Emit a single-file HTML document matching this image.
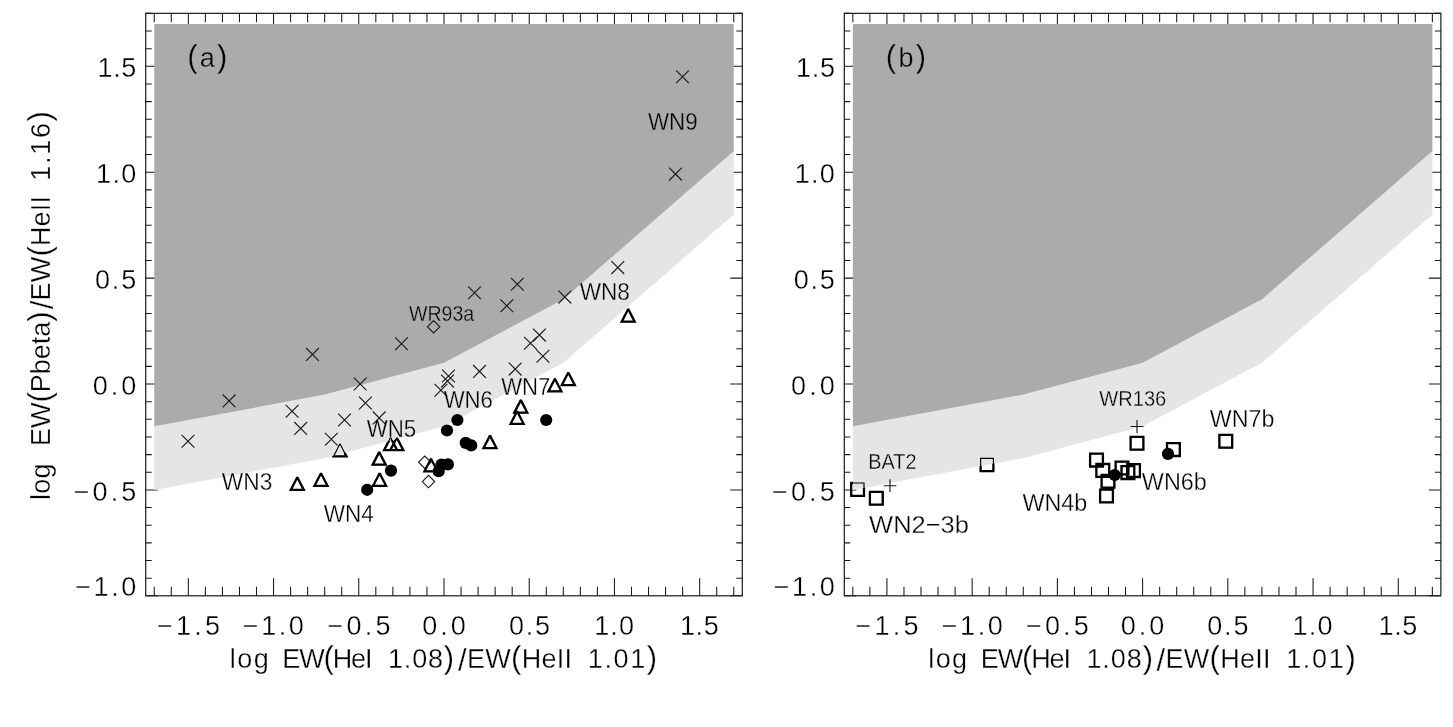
<!DOCTYPE html>
<html><head><meta charset="utf-8"><title>WN diagnostic diagram</title>
<style>
html,body{margin:0;padding:0;background:#fff;}
body{width:1453px;height:727px;overflow:hidden;}
svg{display:block;}
text{font-family:"Liberation Sans",sans-serif;fill:#000;stroke:#fff;stroke-width:0.3px;}
.lbl{mix-blend-mode:multiply;}
</style></head><body>
<svg width="1453" height="727" viewBox="0 0 1453 727">
<rect width="1453" height="727" fill="#fff"/>
<!-- axes -->
<path d="M154.24 595.8v-9.0M154.24 13.35v9.0M171.28 595.8v-9.0M171.28 13.35v9.0M188.33 595.8v-17.6M188.33 13.35v17.6M205.37 595.8v-9.0M205.37 13.35v9.0M222.42 595.8v-9.0M222.42 13.35v9.0M239.46 595.8v-9.0M239.46 13.35v9.0M256.5 595.8v-9.0M256.5 13.35v9.0M273.55 595.8v-17.6M273.55 13.35v17.6M290.6 595.8v-9.0M290.6 13.35v9.0M307.64 595.8v-9.0M307.64 13.35v9.0M324.69 595.8v-9.0M324.69 13.35v9.0M341.73 595.8v-9.0M341.73 13.35v9.0M358.77 595.8v-17.6M358.77 13.35v17.6M375.82 595.8v-9.0M375.82 13.35v9.0M392.87 595.8v-9.0M392.87 13.35v9.0M409.91 595.8v-9.0M409.91 13.35v9.0M426.95 595.8v-9.0M426.95 13.35v9.0M444 595.8v-17.6M444 13.35v17.6M461.05 595.8v-9.0M461.05 13.35v9.0M478.09 595.8v-9.0M478.09 13.35v9.0M495.13 595.8v-9.0M495.13 13.35v9.0M512.18 595.8v-9.0M512.18 13.35v9.0M529.23 595.8v-17.6M529.23 13.35v17.6M546.27 595.8v-9.0M546.27 13.35v9.0M563.32 595.8v-9.0M563.32 13.35v9.0M580.36 595.8v-9.0M580.36 13.35v9.0M597.4 595.8v-9.0M597.4 13.35v9.0M614.45 595.8v-17.6M614.45 13.35v17.6M631.5 595.8v-9.0M631.5 13.35v9.0M648.54 595.8v-9.0M648.54 13.35v9.0M665.59 595.8v-9.0M665.59 13.35v9.0M682.63 595.8v-9.0M682.63 13.35v9.0M699.67 595.8v-17.6M699.67 13.35v17.6M716.72 595.8v-9.0M716.72 13.35v9.0M733.76 595.8v-9.0M733.76 13.35v9.0M145.71 595.8h12.0M742.29 595.8h-12.0M145.71 578.15h6.0M742.29 578.15h-6.0M145.71 560.5h6.0M742.29 560.5h-6.0M145.71 542.85h6.0M742.29 542.85h-6.0M145.71 525.2h6.0M742.29 525.2h-6.0M145.71 507.55h6.0M742.29 507.55h-6.0M145.71 489.9h12.0M742.29 489.9h-12.0M145.71 472.25h6.0M742.29 472.25h-6.0M145.71 454.6h6.0M742.29 454.6h-6.0M145.71 436.95h6.0M742.29 436.95h-6.0M145.71 419.3h6.0M742.29 419.3h-6.0M145.71 401.65h6.0M742.29 401.65h-6.0M145.71 384h12.0M742.29 384h-12.0M145.71 366.35h6.0M742.29 366.35h-6.0M145.71 348.7h6.0M742.29 348.7h-6.0M145.71 331.05h6.0M742.29 331.05h-6.0M145.71 313.4h6.0M742.29 313.4h-6.0M145.71 295.75h6.0M742.29 295.75h-6.0M145.71 278.1h12.0M742.29 278.1h-12.0M145.71 260.45h6.0M742.29 260.45h-6.0M145.71 242.8h6.0M742.29 242.8h-6.0M145.71 225.15h6.0M742.29 225.15h-6.0M145.71 207.5h6.0M742.29 207.5h-6.0M145.71 189.85h6.0M742.29 189.85h-6.0M145.71 172.2h12.0M742.29 172.2h-12.0M145.71 154.55h6.0M742.29 154.55h-6.0M145.71 136.9h6.0M742.29 136.9h-6.0M145.71 119.25h6.0M742.29 119.25h-6.0M145.71 101.6h6.0M742.29 101.6h-6.0M145.71 83.95h6.0M742.29 83.95h-6.0M145.71 66.3h12.0M742.29 66.3h-12.0M145.71 48.65h6.0M742.29 48.65h-6.0M145.71 31h6.0M742.29 31h-6.0M145.71 13.35h6.0M742.29 13.35h-6.0" stroke="#1a1a1a" stroke-width="1.05" fill="none"/>
<rect x="145.71" y="13.35" width="596.57" height="582.45" fill="none" stroke="#1a1a1a" stroke-width="1.2"/>
<path d="M852.83 595.8v-9.0M852.83 13.35v9.0M869.88 595.8v-9.0M869.88 13.35v9.0M886.92 595.8v-17.6M886.92 13.35v17.6M903.97 595.8v-9.0M903.97 13.35v9.0M921.01 595.8v-9.0M921.01 13.35v9.0M938.06 595.8v-9.0M938.06 13.35v9.0M955.1 595.8v-9.0M955.1 13.35v9.0M972.15 595.8v-17.6M972.15 13.35v17.6M989.19 595.8v-9.0M989.19 13.35v9.0M1006.24 595.8v-9.0M1006.24 13.35v9.0M1023.28 595.8v-9.0M1023.28 13.35v9.0M1040.33 595.8v-9.0M1040.33 13.35v9.0M1057.38 595.8v-17.6M1057.38 13.35v17.6M1074.42 595.8v-9.0M1074.42 13.35v9.0M1091.46 595.8v-9.0M1091.46 13.35v9.0M1108.51 595.8v-9.0M1108.51 13.35v9.0M1125.55 595.8v-9.0M1125.55 13.35v9.0M1142.6 595.8v-17.6M1142.6 13.35v17.6M1159.64 595.8v-9.0M1159.64 13.35v9.0M1176.69 595.8v-9.0M1176.69 13.35v9.0M1193.73 595.8v-9.0M1193.73 13.35v9.0M1210.78 595.8v-9.0M1210.78 13.35v9.0M1227.82 595.8v-17.6M1227.82 13.35v17.6M1244.87 595.8v-9.0M1244.87 13.35v9.0M1261.91 595.8v-9.0M1261.91 13.35v9.0M1278.96 595.8v-9.0M1278.96 13.35v9.0M1296 595.8v-9.0M1296 13.35v9.0M1313.05 595.8v-17.6M1313.05 13.35v17.6M1330.09 595.8v-9.0M1330.09 13.35v9.0M1347.14 595.8v-9.0M1347.14 13.35v9.0M1364.18 595.8v-9.0M1364.18 13.35v9.0M1381.23 595.8v-9.0M1381.23 13.35v9.0M1398.27 595.8v-17.6M1398.27 13.35v17.6M1415.32 595.8v-9.0M1415.32 13.35v9.0M1432.36 595.8v-9.0M1432.36 13.35v9.0M844.31 595.8h12.0M1440.89 595.8h-12.0M844.31 578.15h6.0M1440.89 578.15h-6.0M844.31 560.5h6.0M1440.89 560.5h-6.0M844.31 542.85h6.0M1440.89 542.85h-6.0M844.31 525.2h6.0M1440.89 525.2h-6.0M844.31 507.55h6.0M1440.89 507.55h-6.0M844.31 489.9h12.0M1440.89 489.9h-12.0M844.31 472.25h6.0M1440.89 472.25h-6.0M844.31 454.6h6.0M1440.89 454.6h-6.0M844.31 436.95h6.0M1440.89 436.95h-6.0M844.31 419.3h6.0M1440.89 419.3h-6.0M844.31 401.65h6.0M1440.89 401.65h-6.0M844.31 384h12.0M1440.89 384h-12.0M844.31 366.35h6.0M1440.89 366.35h-6.0M844.31 348.7h6.0M1440.89 348.7h-6.0M844.31 331.05h6.0M1440.89 331.05h-6.0M844.31 313.4h6.0M1440.89 313.4h-6.0M844.31 295.75h6.0M1440.89 295.75h-6.0M844.31 278.1h12.0M1440.89 278.1h-12.0M844.31 260.45h6.0M1440.89 260.45h-6.0M844.31 242.8h6.0M1440.89 242.8h-6.0M844.31 225.15h6.0M1440.89 225.15h-6.0M844.31 207.5h6.0M1440.89 207.5h-6.0M844.31 189.85h6.0M1440.89 189.85h-6.0M844.31 172.2h12.0M1440.89 172.2h-12.0M844.31 154.55h6.0M1440.89 154.55h-6.0M844.31 136.9h6.0M1440.89 136.9h-6.0M844.31 119.25h6.0M1440.89 119.25h-6.0M844.31 101.6h6.0M1440.89 101.6h-6.0M844.31 83.95h6.0M1440.89 83.95h-6.0M844.31 66.3h12.0M1440.89 66.3h-12.0M844.31 48.65h6.0M1440.89 48.65h-6.0M844.31 31h6.0M1440.89 31h-6.0M844.31 13.35h6.0M1440.89 13.35h-6.0" stroke="#1a1a1a" stroke-width="1.05" fill="none"/>
<rect x="844.31" y="13.35" width="596.57" height="582.45" fill="none" stroke="#1a1a1a" stroke-width="1.2"/>
<!-- thick markers (under shading) -->
<path d="M628.2 309L634.7 321.6H621.7ZM568.3 372.5L574.8 385.1H561.8ZM554.9 378.8L561.4 391.4H548.4ZM520.8 400.1L527.3 412.7H514.3ZM517.1 411.2L523.6 423.8H510.6ZM490 435.6L496.5 448.2H483.5ZM390.6 437.6L397.1 450.2H384.1ZM396.8 437.6L403.3 450.2H390.3ZM340 443.8L346.5 456.4H333.5ZM379.2 452.1L385.7 464.7H372.7ZM431 458.7L437.5 471.3H424.5ZM379.6 473.2L386.1 485.8H373.1ZM321 473.2L327.5 485.8H314.5ZM297.3 477.3L303.8 489.9H290.8Z" fill="none" stroke="#000" stroke-width="2.3" stroke-linejoin="miter" stroke-miterlimit="2"/>
<path d="M851.2 483h12.8v12.8h-12.8ZM869.9 491.9h12.8v12.8h-12.8ZM980.6 458.3h12.8v12.8h-12.8ZM1090.1 453.7h12.8v12.8h-12.8ZM1096.4 464h12.8v12.8h-12.8ZM1101.6 474.8h12.8v12.8h-12.8ZM1100.1 489.6h12.8v12.8h-12.8ZM1115.6 461.6h12.8v12.8h-12.8ZM1121.5 466.2h12.8v12.8h-12.8ZM1127.1 464.2h12.8v12.8h-12.8ZM1130.6 436.8h12.8v12.8h-12.8ZM1167 443.2h12.8v12.8h-12.8ZM1219.4 434.9h12.8v12.8h-12.8Z" fill="none" stroke="#000" stroke-width="2.3" stroke-linejoin="miter"/>
<!-- shaded regions -->
<polygon points="154.24,424.24 324.69,392.47 444,360.7 563.31,297.16 733.76,148.9 733.76,214.56 563.31,362.82 444,426.36 324.69,458.13 154.24,489.9" fill="#e5e5e5"/>
<polygon points="154.24,23.94 154.24,426.36 324.69,394.59 444,362.82 563.31,299.28 733.76,151.02 733.76,23.94" fill="#ababab"/>
<polygon points="852.83,424.24 1023.28,392.47 1142.6,360.7 1261.91,297.16 1432.36,148.9 1432.36,214.56 1261.91,362.82 1142.6,426.36 1023.28,458.13 852.83,489.9" fill="#e5e5e5"/>
<polygon points="852.83,23.94 852.83,426.36 1023.28,394.59 1142.6,362.82 1261.91,299.28 1432.36,151.02 1432.36,23.94" fill="#ababab"/>
<!-- thin markers -->
<path d="M628.2 309L634.7 321.6H621.7ZM568.3 372.5L574.8 385.1H561.8ZM554.9 378.8L561.4 391.4H548.4ZM520.8 400.1L527.3 412.7H514.3ZM517.1 411.2L523.6 423.8H510.6ZM490 435.6L496.5 448.2H483.5ZM390.6 437.6L397.1 450.2H384.1ZM396.8 437.6L403.3 450.2H390.3ZM340 443.8L346.5 456.4H333.5ZM379.2 452.1L385.7 464.7H372.7ZM431 458.7L437.5 471.3H424.5ZM379.6 473.2L386.1 485.8H373.1ZM321 473.2L327.5 485.8H314.5ZM297.3 477.3L303.8 489.9H290.8Z" fill="none" stroke="#000" stroke-width="1.15" stroke-linejoin="miter" stroke-miterlimit="2"/>
<path d="M851.2 483h12.8v12.8h-12.8ZM869.9 491.9h12.8v12.8h-12.8ZM980.6 458.3h12.8v12.8h-12.8ZM1090.1 453.7h12.8v12.8h-12.8ZM1096.4 464h12.8v12.8h-12.8ZM1101.6 474.8h12.8v12.8h-12.8ZM1100.1 489.6h12.8v12.8h-12.8ZM1115.6 461.6h12.8v12.8h-12.8ZM1121.5 466.2h12.8v12.8h-12.8ZM1127.1 464.2h12.8v12.8h-12.8ZM1130.6 436.8h12.8v12.8h-12.8ZM1167 443.2h12.8v12.8h-12.8ZM1219.4 434.9h12.8v12.8h-12.8Z" fill="none" stroke="#000" stroke-width="1.15" stroke-linejoin="miter"/>
<path d="M676.1 70.4l12.8 12.8M676.1 83.2l12.8 -12.8M669.1 167.7l12.8 12.8M669.1 180.5l12.8 -12.8M611.4 261.2l12.8 12.8M611.4 274l12.8 -12.8M510.9 277.9l12.8 12.8M510.9 290.7l12.8 -12.8M468.1 286.3l12.8 12.8M468.1 299.1l12.8 -12.8M500.4 299.4l12.8 12.8M500.4 312.2l12.8 -12.8M558.4 290.7l12.8 12.8M558.4 303.5l12.8 -12.8M395.1 337.4l12.8 12.8M395.1 350.2l12.8 -12.8M306.1 348l12.8 12.8M306.1 360.8l12.8 -12.8M533 328.7l12.8 12.8M533 341.5l12.8 -12.8M524.1 336.9l12.8 12.8M524.1 349.7l12.8 -12.8M536.5 349.9l12.8 12.8M536.5 362.7l12.8 -12.8M508.8 362.7l12.8 12.8M508.8 375.5l12.8 -12.8M473.1 365l12.8 12.8M473.1 377.8l12.8 -12.8M442.1 369.6l12.8 12.8M442.1 382.4l12.8 -12.8M441.1 374.7l12.8 12.8M441.1 387.5l12.8 -12.8M434.5 383.9l12.8 12.8M434.5 396.7l12.8 -12.8M353.8 377.6l12.8 12.8M353.8 390.4l12.8 -12.8M222.7 394.5l12.8 12.8M222.7 407.3l12.8 -12.8M359 396.6l12.8 12.8M359 409.4l12.8 -12.8M285.7 404.9l12.8 12.8M285.7 417.7l12.8 -12.8M338.1 413.6l12.8 12.8M338.1 426.4l12.8 -12.8M372.8 411.5l12.8 12.8M372.8 424.3l12.8 -12.8M294.3 422l12.8 12.8M294.3 434.8l12.8 -12.8M181.6 434.8l12.8 12.8M181.6 447.6l12.8 -12.8M324.9 432.8l12.8 12.8M324.9 445.6l12.8 -12.8" fill="none" stroke="#1a1a1a" stroke-width="1.15"/>
<path d="M427.4 326.8L433.6 320.6L439.8 326.8L433.6 333ZM418.6 462.2L424.8 456L431 462.2L424.8 468.4ZM422.3 481.6L428.5 475.4L434.7 481.6L428.5 487.8Z" fill="none" stroke="#1a1a1a" stroke-width="1.15"/>
<path d="M883.6 485.7h12.8M890 479.3v12.8M1130.6 426.5h12.8M1137 420.1v12.8" fill="none" stroke="#1a1a1a" stroke-width="1.15"/>
<g fill="#000"><circle cx="457.4" cy="420" r="6.1"/><circle cx="447" cy="430.5" r="6.1"/><circle cx="465.7" cy="442.9" r="6.1"/><circle cx="471.2" cy="445.4" r="6.1"/><circle cx="546.2" cy="420" r="6.1"/><circle cx="441.5" cy="464.5" r="6.1"/><circle cx="447.9" cy="464.4" r="6.1"/><circle cx="438.7" cy="471.2" r="6.1"/><circle cx="391" cy="470.6" r="6.1"/><circle cx="367.2" cy="489.8" r="6.1"/><circle cx="1114.7" cy="475" r="6.1"/><circle cx="1168" cy="453.9" r="6.1"/></g>
<!-- labels -->
<g class="lbl">
<text x="187.23" y="66.6" font-size="27.0" textLength="40.16" lengthAdjust="spacing"><tspan font-size="31">(</tspan>a<tspan font-size="31">)</tspan></text>
<text x="648" y="130.2" font-size="24.6" textLength="49.67" lengthAdjust="spacingAndGlyphs">WN9</text>
<text x="579.67" y="299.7" font-size="24.6" textLength="50.24" lengthAdjust="spacingAndGlyphs">WN8</text>
<text x="408.93" y="320.9" font-size="21.6" textLength="65.31" lengthAdjust="spacingAndGlyphs">WR93a</text>
<text x="501.14" y="395" font-size="24.6" textLength="49.08" lengthAdjust="spacingAndGlyphs">WN7</text>
<text x="443.65" y="407.8" font-size="24.6" textLength="49.19" lengthAdjust="spacingAndGlyphs">WN6</text>
<text x="366.63" y="437.1" font-size="24.6" textLength="49.46" lengthAdjust="spacingAndGlyphs">WN5</text>
<text x="221.7" y="490.3" font-size="24.6" textLength="50.63" lengthAdjust="spacingAndGlyphs">WN3</text>
<text x="323.68" y="522.2" font-size="24.6" textLength="50.07" lengthAdjust="spacingAndGlyphs">WN4</text>
<text x="885.85" y="66.6" font-size="27.0" textLength="40.33" lengthAdjust="spacing"><tspan font-size="31">(</tspan>b<tspan font-size="31">)</tspan></text>
<text x="1099.17" y="406" font-size="21.6" textLength="67.17" lengthAdjust="spacingAndGlyphs">WR136</text>
<text x="868.33" y="469.4" font-size="21.6" textLength="48.2" lengthAdjust="spacingAndGlyphs">BAT2</text>
<text x="1209.85" y="426.6" font-size="24.6" textLength="64.48" lengthAdjust="spacingAndGlyphs">WN7b</text>
<text x="1141.85" y="490.2" font-size="24.6" textLength="65.04" lengthAdjust="spacingAndGlyphs">WN6b</text>
<text x="1022.38" y="511.4" font-size="24.6" textLength="64.84" lengthAdjust="spacingAndGlyphs">WN4b</text>
<text x="869.1" y="532.5" font-size="24.6" textLength="99.86" lengthAdjust="spacingAndGlyphs">WN2−3b</text>
<text x="156.88" y="635" font-size="27.0" textLength="63.09" lengthAdjust="spacing">−1.5</text>
<text x="242.79" y="635" font-size="27.0" textLength="61.1" lengthAdjust="spacing">−1.0</text>
<text x="327.4" y="635" font-size="27.0" textLength="63.01" lengthAdjust="spacing">−0.5</text>
<text x="422.14" y="635" font-size="27.0" textLength="43.67" lengthAdjust="spacing">0.0</text>
<text x="508.91" y="635" font-size="27.0" textLength="41.11" lengthAdjust="spacing">0.5</text>
<text x="594.14" y="635" font-size="27.0" textLength="39.97" lengthAdjust="spacing">1.0</text>
<text x="679.88" y="635" font-size="27.0" textLength="38.8" lengthAdjust="spacing">1.5</text>
<text x="97.61" y="77.3" font-size="27.0" textLength="38.78" lengthAdjust="spacing">1.5</text>
<text x="96.04" y="183.2" font-size="27.0" textLength="40.2" lengthAdjust="spacing">1.0</text>
<text x="94.88" y="289.1" font-size="27.0" textLength="41.36" lengthAdjust="spacing">0.5</text>
<text x="92.69" y="395" font-size="27.0" textLength="43.54" lengthAdjust="spacing">0.0</text>
<text x="73.65" y="500.9" font-size="27.0" textLength="62.67" lengthAdjust="spacing">−0.5</text>
<text x="75.18" y="596.1" font-size="27.0" textLength="61.06" lengthAdjust="spacing">−1.0</text>
<text x="229.84" y="668.2" font-size="27.0" textLength="38.94" lengthAdjust="spacing">log</text>
<text x="282.37" y="668.2" font-size="27.0" textLength="90.09" lengthAdjust="spacing">EW<tspan font-size="31">(</tspan>HeI</text>
<text x="387.94" y="668.2" font-size="27.0" textLength="66.24" lengthAdjust="spacing">1.08<tspan font-size="31">)</tspan></text>
<text x="457.96" y="668.2" font-size="27.0" textLength="114.16" lengthAdjust="spacing"><tspan font-size="31" dy="3">/</tspan><tspan dy="-3">E</tspan>W<tspan font-size="31">(</tspan>HeII</text>
<text x="587.84" y="668.2" font-size="27.0" textLength="69.26" lengthAdjust="spacing">1.01<tspan font-size="31">)</tspan></text>
<text x="855.4" y="635" font-size="27.0" textLength="63.06" lengthAdjust="spacing">−1.5</text>
<text x="941.73" y="635" font-size="27.0" textLength="61.03" lengthAdjust="spacing">−1.0</text>
<text x="1025.97" y="635" font-size="27.0" textLength="62.81" lengthAdjust="spacing">−0.5</text>
<text x="1120.83" y="635" font-size="27.0" textLength="43.37" lengthAdjust="spacing">0.0</text>
<text x="1207.13" y="635" font-size="27.0" textLength="41.43" lengthAdjust="spacing">0.5</text>
<text x="1292.59" y="635" font-size="27.0" textLength="40.03" lengthAdjust="spacing">1.0</text>
<text x="1378.58" y="635" font-size="27.0" textLength="38.68" lengthAdjust="spacing">1.5</text>
<text x="796.02" y="77.3" font-size="27.0" textLength="38.94" lengthAdjust="spacing">1.5</text>
<text x="794.7" y="183.2" font-size="27.0" textLength="40.05" lengthAdjust="spacing">1.0</text>
<text x="793.73" y="289.1" font-size="27.0" textLength="41.12" lengthAdjust="spacing">0.5</text>
<text x="791.08" y="395" font-size="27.0" textLength="43.64" lengthAdjust="spacing">0.0</text>
<text x="771.93" y="500.9" font-size="27.0" textLength="62.91" lengthAdjust="spacing">−0.5</text>
<text x="773.74" y="596.1" font-size="27.0" textLength="61.01" lengthAdjust="spacing">−1.0</text>
<text x="928.24" y="668.2" font-size="27.0" textLength="38.9" lengthAdjust="spacing">log</text>
<text x="980.82" y="668.2" font-size="27.0" textLength="90.1" lengthAdjust="spacing">EW<tspan font-size="31">(</tspan>HeI</text>
<text x="1086.39" y="668.2" font-size="27.0" textLength="66.57" lengthAdjust="spacing">1.08<tspan font-size="31">)</tspan></text>
<text x="1156.53" y="668.2" font-size="27.0" textLength="114.08" lengthAdjust="spacing"><tspan font-size="31" dy="3">/</tspan><tspan dy="-3">E</tspan>W<tspan font-size="31">(</tspan>HeII</text>
<text x="1286.14" y="668.2" font-size="27.0" textLength="69.73" lengthAdjust="spacing">1.01<tspan font-size="31">)</tspan></text>
<text transform="translate(49.6 500.08) rotate(-90)" font-size="27.0" textLength="36.7" lengthAdjust="spacing">log</text>
<text transform="translate(49.6 445.89) rotate(-90)" font-size="27.0" textLength="134.51" lengthAdjust="spacing">EW<tspan font-size="31">(</tspan>Pbeta<tspan font-size="31">)</tspan></text>
<text transform="translate(49.6 309.17) rotate(-90)" font-size="27.0" textLength="113.13" lengthAdjust="spacing"><tspan font-size="31" dy="3">/</tspan><tspan dy="-3">E</tspan>W<tspan font-size="31">(</tspan>HeII</text>
<text transform="translate(49.6 180.64) rotate(-90)" font-size="27.0" textLength="69.57" lengthAdjust="spacing">1.16<tspan font-size="31">)</tspan></text>
</g>
</svg>
</body></html>
